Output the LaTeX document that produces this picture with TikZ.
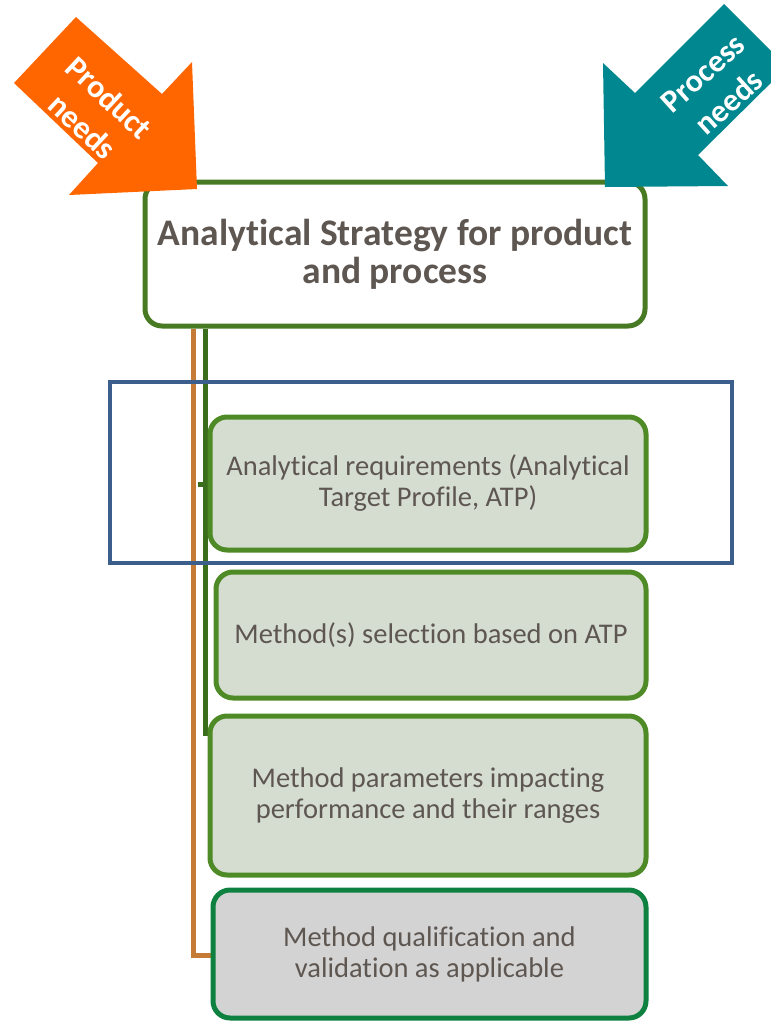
\documentclass[tikz,border=0pt]{standalone}
\usepackage{fontspec}
\setmainfont{Carlito}[Ligatures=NoCommon]
\usetikzlibrary{positioning}
\definecolor{NeedOrange}{HTML}{FF6600}
\definecolor{NeedTeal}{HTML}{00878F}
\definecolor{StratGreen}{HTML}{477A22}
\definecolor{StepGreen}{HTML}{4E8A25}
\definecolor{StepFill}{HTML}{D5DDD1}
\definecolor{QualGreen}{HTML}{0E8040}
\definecolor{QualFill}{HTML}{D3D3D3}
\definecolor{BusOrange}{HTML}{C57A35}
\definecolor{BusGreen}{HTML}{3A6E1C}
\definecolor{FrameBlue}{HTML}{3B5E8C}
\definecolor{TextGrey}{HTML}{5E5651}

\begin{document}
\begin{tikzpicture}[x=1pt,y=-1pt]
    \tikzset{blk/.style={rounded corners=17pt,line width=5pt,draw=StepGreen,fill=StepFill,
      text=TextGrey,align=center,inner sep=0pt,font=\fontsize{28.5}{31}\selectfont},
      need/.style={text=white,align=center,font=\bfseries\fontsize{32}{39}\selectfont},
      bus/.style={line width=5pt}}
    \useasboundingbox (0,0) rectangle (771,1021);

    % strategy box and the four steps
    \node[blk,fill=white,draw=StratGreen,minimum width=500pt,minimum height=144pt,
      font=\bfseries\fontsize{37.5}{38}\selectfont] (strat) at (395,254)
      {Analytical Strategy for product\\and process};
    \coordinate (obus) at (193,0);
    \coordinate (gbus) at (205,0);
    \draw[bus,BusOrange] (obus |- strat.south) -- (obus |- 0,955) -- (213,955);
    \draw[bus,BusGreen] (gbus |- strat.south) -- (gbus |- 0,733) -- (212,733);
    \draw[bus,BusGreen] (198,484) -- (210,484);

    \node[blk,minimum width=436pt,minimum height=133pt] (req) at (428,483.5)
      {Analytical requirements (Analytical\\Target Profile, ATP)};
    \node[blk,minimum width=430pt,minimum height=126pt] (sel) at (431,635)
      {Method(s) selection based on ATP};
    \node[blk,minimum width=436pt,minimum height=159pt] (param) at (428,795.5)
      {Method parameters impacting\\performance and their ranges};
    \node[blk,draw=QualGreen,fill=QualFill,minimum width=433pt,minimum height=128pt] (qual) at (429.5,954)
      {Method qualification and\\validation as applicable};

    % frame round the requirements
    \draw[line width=4pt,FrameBlue] (110,382) rectangle (732,563);

    % the two needs arrows
    \fill[NeedOrange] (76,17) -- (162,94) -- (192,62) -- (197,189) -- (69,195)
      -- (98,163) -- (14,83) -- cycle;
    \node[need,rotate=-43] (prod) at (96,112) {Product\\needs};
    \fill[NeedTeal] (724,4) -- (787,67) -- (698,155) -- (728,186) -- (605,187)
      -- (603,63) -- (635,93) -- cycle;
    \node[need,rotate=42] (proc) at (716,88) {Process\\needs};
\end{tikzpicture}
\end{document}
